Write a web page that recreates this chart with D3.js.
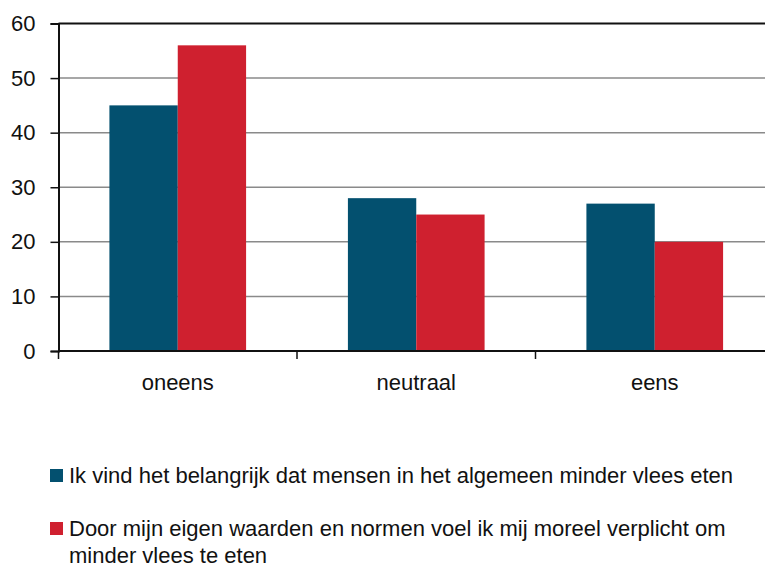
<!DOCTYPE html>
<html>
<head>
<meta charset="utf-8">
<title>Vlees</title>
<script src="https://cdn.jsdelivr.net/npm/d3@7"></script>
<style>
  body { margin: 0; background: #fff; }
  text { font-family: "Liberation Sans", Arial, sans-serif; fill: #111; }
</style>
</head>
<body>
<div id="chart"></div>
<script>
var categories = ["oneens", "neutraal", "eens"];
var seriesNames = [
  "Ik vind het belangrijk dat mensen in het algemeen minder vlees eten",
  "Door mijn eigen waarden en normen voel ik mij moreel verplicht om minder vlees te eten"
];
var belangrijk = [45, 28, 27];
var verplicht = [56, 25, 20];
var yTicks = [0, 10, 20, 30, 40, 50, 60];
var colors = ["#03506f", "#cf202f"];

var width = 765, height = 568;
var plotLeft = 58.5, plotTop = 23.5, plotW = 715.5, plotH = 327.5;

var svg = d3.select("#chart").append("svg")
  .attr("width", width)
  .attr("height", height);

var x = d3.scaleBand().domain(categories).range([plotLeft, plotLeft + plotW]).paddingInner(0).paddingOuter(0);
// two bars side by side, gap on each side of the pair
var x1 = d3.scaleBand().domain([0, 1]).range([0, x.bandwidth()]).paddingOuter(0.745).paddingInner(0);
var y = d3.scaleLinear().domain([0, 60]).range([plotTop + plotH, plotTop]);

// gridlines
svg.append("g").selectAll("line").data(yTicks.slice(1)).enter().append("line")
  .attr("x1", plotLeft).attr("x2", width)
  .attr("y1", function(d) { return y(d); }).attr("y2", function(d) { return y(d); })
  .style("stroke", function(d) { return d == 60 ? "#111" : "#8a8a8a"; })
  .style("stroke-width", function(d) { return d == 60 ? 2 : 1.5; });

// bars
var series = [belangrijk, verplicht];
series.forEach(function(vals, s) {
  svg.append("g").selectAll("rect").data(vals).enter().append("rect")
    .attr("x", function(d, i) { return x(categories[i]) + x1(s); })
    .attr("y", function(d) { return y(d); })
    .attr("width", x1.bandwidth())
    .attr("height", function(d) { return y(0) - y(d); })
    .style("fill", colors[s]);
});

// y axis
var yAxis = svg.append("g")
  .attr("transform", "translate(" + plotLeft + ",0)")
  .call(d3.axisLeft(y).tickValues(yTicks).tickSize(8).tickPadding(15));
yAxis.select(".domain").style("stroke", "#111").style("stroke-width", 2);
yAxis.selectAll(".tick line").style("stroke", "#111").style("stroke-width", 1.5);
yAxis.selectAll("text").style("font-size", "22px").style("font-family", "'Liberation Sans', Arial, sans-serif").style("fill", "#111");

// x axis baseline and ticks at band boundaries
svg.append("line")
  .attr("x1", plotLeft).attr("x2", width)
  .attr("y1", y(0)).attr("y2", y(0))
  .style("stroke", "#111").style("stroke-width", 2);
svg.append("g").selectAll("line").data(categories).enter().append("line")
  .attr("x1", function(d) { return x(d); }).attr("x2", function(d) { return x(d); })
  .attr("y1", y(0)).attr("y2", y(0) + 8)
  .style("stroke", "#111").style("stroke-width", 1.5);
svg.append("g").selectAll("text").data(categories).enter().append("text")
  .attr("x", function(d) { return x(d) + x.bandwidth() / 2; })
  .attr("y", 390)
  .attr("text-anchor", "middle")
  .style("font-size", "22px")
  .text(function(d) { return d; });

// legend
var legendItems = [
  { lines: [seriesNames[0]], y: 483 },
  { lines: ["Door mijn eigen waarden en normen voel ik mij moreel verplicht om", "minder vlees te eten"], y: 536 }
];
var lg = svg.append("g").selectAll("g").data(legendItems).enter().append("g");
lg.append("rect")
  .attr("x", 50).attr("y", function(d) { return d.y - 14; })
  .attr("width", 13).attr("height", 13)
  .style("fill", function(d, i) { return colors[i]; });
lg.append("text")
  .attr("x", 69).attr("y", function(d) { return d.y; })
  .style("font-size", "22px")
  .selectAll("tspan").data(function(d) { return d.lines; }).enter().append("tspan")
  .attr("x", 69)
  .attr("dy", function(d, i) { return i ? 27 : 0; })
  .text(function(d) { return d; });
</script>
</body>
</html>
